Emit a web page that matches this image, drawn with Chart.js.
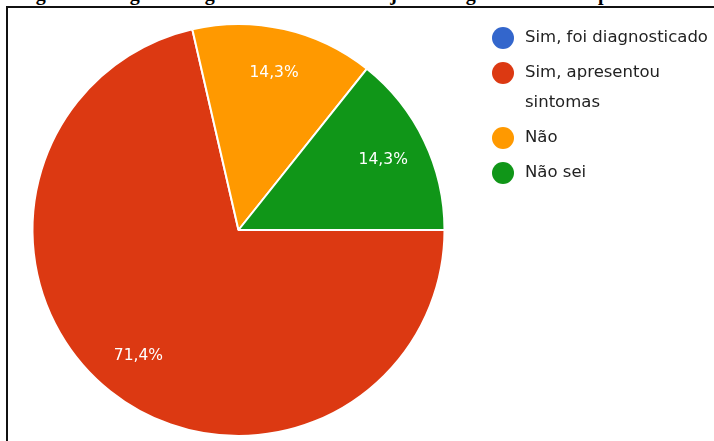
<!DOCTYPE html>
<html lang="pt">
<head>
  <meta charset="UTF-8" />
  <title>Figura - diagnóstico na família</title>
  <script src="https://cdn.jsdelivr.net/npm/chart.js"></script>
  <style>
    body {
      margin: 0;
      width: 714px;
      height: 441px;
      overflow: hidden;
      background: #fff;
      position: relative;
    }

    .titulo {
      position: absolute;
      left: 18px;
      top: -17px;
      font: bold 20px 'Liberation Serif', 'Times New Roman', serif;
      line-height: 20px;
      white-space: nowrap;
      color: #000;
    }

    .quadro {
      position: absolute;
      left: 6px;
      top: 6px;
      width: 730px;
      height: 460px;
      border: 2px solid #111;
      background: #fff;
    }

    #grafico {
      position: absolute;
      left: 0;
      top: 0;
    }
  </style>
</head>
<body>
  <div class="titulo">Figura 8 – Algum integrante da sua família já foi diagnosticado ou apresentou sintomas de depressão?</div>
  <div class="quadro"></div>
  <canvas id="grafico" width="714" height="441"></canvas>

  <script>
    const categorias = ['Sim, foi diagnosticado', 'Sim, apresentou sintomas', 'Não', 'Não sei'];
    const percentuais = [0, 71.4, 14.3, 14.3];
    const cores = ['#3366cc', '#dc3912', '#ff9900', '#109618'];

    const FONTE = "'DejaVu Sans', Verdana, sans-serif";

    // legenda à direita, com quebra de linha quando o texto não cabe
    const legendaLateral = {
      id: 'legendaLateral',
      afterDraw(chart) {
        const ctx = chart.ctx;
        const x = 503, xTexto = 525, larguraMax = 189;
        let y = 38;
        ctx.save();
        ctx.font = '16.5px ' + FONTE;
        ctx.textBaseline = 'middle';
        chart.data.labels.forEach((rotulo, i) => {
          ctx.fillStyle = chart.data.datasets[0].backgroundColor[i];
          ctx.beginPath();
          ctx.arc(x, y, 11, 0, Math.PI * 2);
          ctx.fill();

          // quebra simples por palavras
          const palavras = rotulo.split(' ');
          const linhas = [];
          let atual = '';
          palavras.forEach(p => {
            const teste = atual ? atual + ' ' + p : p;
            if (ctx.measureText(teste).width > larguraMax && atual) {
              linhas.push(atual);
              atual = p;
            } else {
              atual = teste;
            }
          });
          linhas.push(atual);

          ctx.fillStyle = '#222';
          linhas.forEach((l, k) => ctx.fillText(l, xTexto, y + k * 30));
          y += 35 + (linhas.length - 1) * 30;
        });
        ctx.restore();
      }
    };

    // percentuais escritos dentro de cada fatia
    const rotulosFatias = {
      id: 'rotulosFatias',
      afterDatasetsDraw(chart) {
        const ctx = chart.ctx;
        const meta = chart.getDatasetMeta(0);
        ctx.save();
        ctx.font = '15.5px ' + FONTE;
        ctx.fillStyle = '#fff';
        ctx.textAlign = 'center';
        ctx.textBaseline = 'middle';
        meta.data.forEach((arco, i) => {
          const v = chart.data.datasets[0].data[i];
          if (!v) return;
          const p = arco.getProps(['x', 'y', 'startAngle', 'endAngle', 'outerRadius']);
          const meio = (p.startAngle + p.endAngle) / 2;
          const r = p.outerRadius * 0.78;
          const texto = v.toFixed(1).replace('.', ',') + '%';
          ctx.fillText(texto, p.x + Math.cos(meio) * r, p.y + Math.sin(meio) * r);
        });
        ctx.restore();
      }
    };

    new Chart(document.getElementById('grafico'), {
      type: 'pie',
      data: {
        labels: categorias,
        datasets: [{
          data: percentuais,
          backgroundColor: cores,
          borderColor: '#fff',
          borderWidth: 2
        }]
      },
      options: {
        responsive: false,
        animation: false,
        rotation: 90,
        layout: {
          padding: { left: 31, top: 23, right: 268, bottom: 4 }
        },
        plugins: {
          legend: { display: false },
          tooltip: { enabled: false }
        }
      },
      plugins: [rotulosFatias, legendaLateral]
    });
  </script>
</body>
</html>
